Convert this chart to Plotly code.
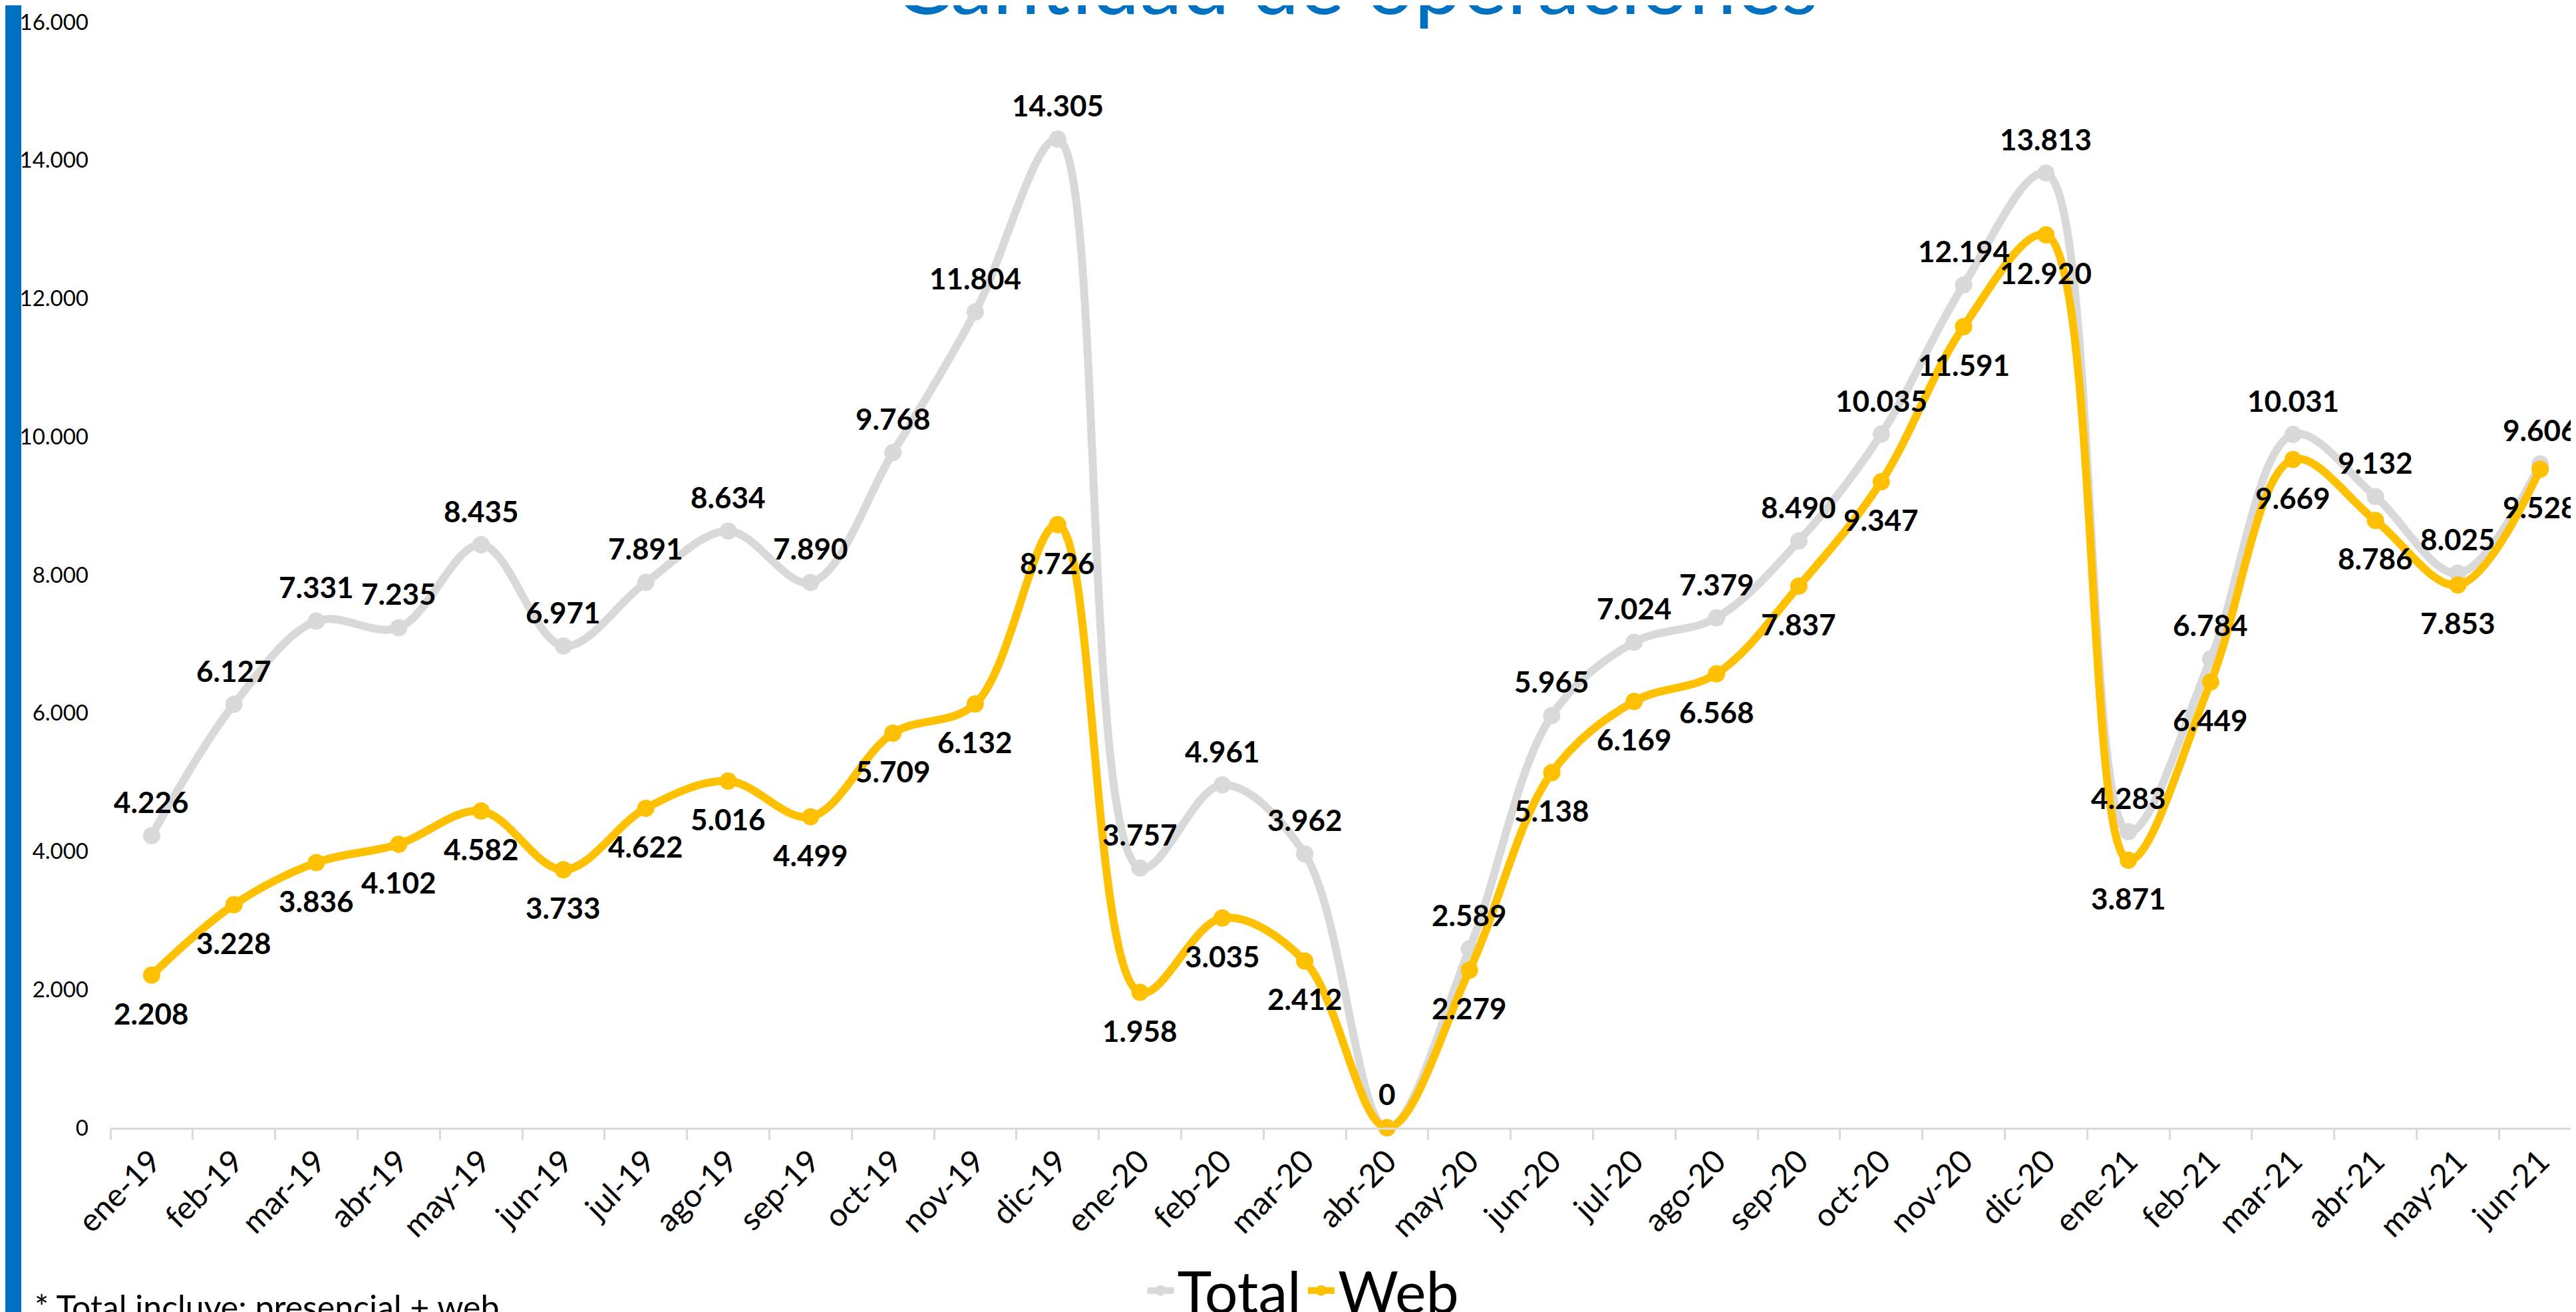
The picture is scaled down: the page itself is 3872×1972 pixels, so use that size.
import plotly.graph_objects as go

months = ["ene-19", "feb-19", "mar-19", "abr-19", "may-19", "jun-19", "jul-19", "ago-19", "sep-19",
          "oct-19", "nov-19", "dic-19", "ene-20", "feb-20", "mar-20", "abr-20", "may-20", "jun-20",
          "jul-20", "ago-20", "sep-20", "oct-20", "nov-20", "dic-20", "ene-21", "feb-21", "mar-21",
          "abr-21", "may-21", "jun-21"]
total = [4226, 6127, 7331, 7235, 8435, 6971, 7891, 8634, 7890, 9768, 11804, 14305, 3757, 4961, 3962,
         0, 2589, 5965, 7024, 7379, 8490, 10035, 12194, 13813, 4283, 6784, 10031, 9132, 8025, 9606]
web = [2208, 3228, 3836, 4102, 4582, 3733, 4622, 5016, 4499, 5709, 6132, 8726, 1958, 3035, 2412,
       0, 2279, 5138, 6169, 6568, 7837, 9347, 11591, 12920, 3871, 6449, 9669, 8786, 7853, 9528]
y_ticks = [0, 2000, 4000, 6000, 8000, 10000, 12000, 14000, 16000]

title_text = "Cantidad de operaciones"
note_text = "* Total incluye: presencial + web"

GRAY = "#D9D9D9"
YELLOW = "#FFC000"
BLUE = "#0070C0"
FONT = "Lato, Open Sans, sans-serif"


def fmt(v):
    return f"{v:,}".replace(",", ".")


W, H = 3872, 1972
ML, MR, MT, MB = 158, 0, 25, 285
PW, PH = W - ML - MR, H - MT - MB


def px_x(x):
    return (x - ML) / PW


def px_y(y):
    return (H - MB - y) / PH


fig = go.Figure()
fig.add_trace(go.Scatter(
    x=months, y=total, name="Total", mode="lines+markers",
    line=dict(color=GRAY, width=12, shape="spline", smoothing=1),
    marker=dict(color=GRAY, size=26),
    cliponaxis=False,
))
fig.add_trace(go.Scatter(
    x=months, y=web, name="Web", mode="lines+markers",
    line=dict(color=YELLOW, width=12, shape="spline", smoothing=1),
    marker=dict(color=YELLOW, size=26),
    cliponaxis=False,
))

label_font = dict(family=FONT, size=44, color="black", weight="bold")
annotations = []
for m, v in zip(months, total):
    annotations.append(dict(x=m, y=v, xref="x", yref="y", text=fmt(v), showarrow=False,
                            xanchor="center", yanchor="middle", yshift=51, font=label_font))
for m, v in zip(months, web):
    if v == 0:
        continue
    annotations.append(dict(x=m, y=v, xref="x", yref="y", text=fmt(v), showarrow=False,
                            xanchor="center", yanchor="middle", yshift=-57, font=label_font))

annotations += [
    dict(text=title_text, xref="paper", yref="paper", x=px_x(2030), y=px_y(42),
         xanchor="center", yanchor="bottom", showarrow=False,
         font=dict(family=FONT, size=128, color=BLUE)),
    dict(text=note_text, xref="paper", yref="paper", x=px_x(42), y=px_y(1924),
         xanchor="left", yanchor="top", showarrow=False,
         font=dict(family=FONT, size=50, color="black")),
]

fig.update_layout(
    width=W, height=H,
    margin=dict(l=ML, r=MR, t=MT, b=MB, autoexpand=False),
    paper_bgcolor="white", plot_bgcolor="white",
    separators=",.",
    font=dict(family=FONT, color="black"),
    showlegend=True,
    legend=dict(orientation="h", x=px_x(1951), xanchor="center", y=px_y(1932), yanchor="middle",
                font=dict(family=FONT, size=88, color="black"), bgcolor="rgba(0,0,0,0)",
                itemwidth=40, tracegroupgap=0),
    xaxis=dict(type="category", range=[-0.5, len(months) - 0.5], showgrid=False, zeroline=False,
               showline=True, linecolor=GRAY, linewidth=3,
               ticks="outside", tickson="boundaries", ticklen=15, tickcolor=GRAY, tickwidth=3,
               tickangle=-45, tickfont=dict(family=FONT, size=48, color="black"),
               automargin=False),
    yaxis=dict(range=[0, 16000], tickvals=y_ticks, tickformat=",.0f", showgrid=False,
               zeroline=False, showline=False, ticks="", ticklabelstandoff=32,
               tickfont=dict(family=FONT, size=33, color="black"), automargin=False),
    shapes=[dict(type="rect", xref="paper", yref="paper", x0=px_x(0), x1=px_x(24),
                 y0=px_y(H + 10), y1=px_y(-10), fillcolor=BLUE, line=dict(width=0), layer="above")],
    annotations=annotations,
)

fig.write_html("out.html")
